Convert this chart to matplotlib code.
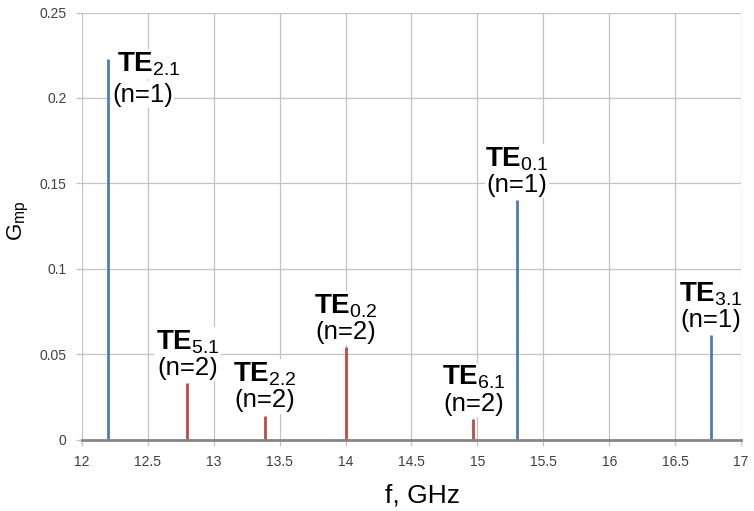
import matplotlib
matplotlib.use("Agg")
import matplotlib.pyplot as plt

# Mode peaks: frequency (GHz), magnitude, mode name, harmonic number
freq_n1 = [12.2, 15.3, 16.77]
gmp_n1 = [0.223, 0.140, 0.061]
mode_n1 = ["2.1", "0.1", "3.1"]

freq_n2 = [12.8, 13.39, 14.0, 14.97]
gmp_n2 = [0.033, 0.014, 0.054, 0.012]
mode_n2 = ["5.1", "2.2", "0.2", "6.1"]

x_ticks = [12, 12.5, 13, 13.5, 14, 14.5, 15, 15.5, 16, 16.5, 17]
x_tick_labels = ["12", "12.5", "13", "13.5", "14", "14.5", "15", "15.5", "16", "16.5", "17"]
y_ticks = [0, 0.05, 0.1, 0.15, 0.2, 0.25]
y_tick_labels = ["0", "0.05", "0.1", "0.15", "0.2", "0.25"]

plt.rcParams["font.family"] = ["Liberation Sans", "DejaVu Sans"]
plt.rcParams["mathtext.fontset"] = "custom"
plt.rcParams["mathtext.rm"] = "Liberation Sans"
plt.rcParams["mathtext.it"] = "Liberation Sans:italic"
plt.rcParams["mathtext.bf"] = "Liberation Sans:bold"

BLUE = "#4a7ebb"
RED = "#be4b48"
GRID = "#c3c3c3"
AXIS = "#868686"
TICK_TXT = "#404040"

fig = plt.figure(figsize=(7.54, 5.11), dpi=100)
ax = fig.add_axes([0.10875, 0.1399, 0.8740, 0.8356])

ax.set_xlim(12, 17)
ax.set_ylim(0, 0.25)

ax.vlines(freq_n1, 0, gmp_n1, colors=BLUE, linewidth=2.0, zorder=3)
ax.vlines(freq_n2, 0, gmp_n2, colors=RED, linewidth=2.0, zorder=3)

ax.set_xticks(x_ticks)
ax.set_xticklabels(x_tick_labels)
ax.set_yticks(y_ticks)
ax.set_yticklabels(y_tick_labels)
ax.grid(True, color=GRID, linewidth=0.9, zorder=0)
ax.set_axisbelow(True)

for s in ("top", "right", "left"):
    ax.spines[s].set_visible(False)
ax.spines["bottom"].set_color(AXIS)
ax.spines["bottom"].set_linewidth(2.0)
ax.spines["bottom"].set_zorder(4)

ax.tick_params(axis="x", length=4, width=0.9, color=GRID, pad=7,
               labelsize=10, labelcolor=TICK_TXT)
ax.tick_params(axis="y", length=4, width=0.9, color=GRID, pad=7,
               labelsize=10, labelcolor=TICK_TXT)

box = dict(facecolor="white", edgecolor="none", pad=1.0)


def label_peak(x, y, mode, n, left=False):
    name = r"$\mathbf{TE}_{\mathrm{%s}}$" % mode
    harm = "(n=%d)" % n
    if left:
        ax.annotate(name, (x, y), xytext=(6, -9), textcoords="offset points",
                    ha="left", va="baseline", fontsize=20, bbox=box, zorder=5)
        ax.annotate(harm, (x, y), xytext=(2.6, -31), textcoords="offset points",
                    ha="left", va="baseline", fontsize=18.5, bbox=box, zorder=5)
    else:
        ax.annotate(harm, (x, y), xytext=(0, 6), textcoords="offset points",
                    ha="center", va="baseline", fontsize=18.5, bbox=box, zorder=5)
        ax.annotate(name, (x, y), xytext=(0, 24.5), textcoords="offset points",
                    ha="center", va="baseline", fontsize=20, bbox=box, zorder=5)


for i, (x, y, m) in enumerate(zip(freq_n1, gmp_n1, mode_n1)):
    label_peak(x, y, m, 1, left=(i == 0))
for x, y, m in zip(freq_n2, gmp_n2, mode_n2):
    label_peak(x, y, m, 2)

fig.text(422.5 / 754, 1 - 502 / 511, "f, GHz", fontsize=19,
         ha="center", va="baseline")
fig.text(18.5 / 754, 1 - 220.5 / 511, r"$\mathrm{G}_{\mathrm{mp}}$", fontsize=16,
         rotation=90, ha="center", va="center")

fig.savefig("out.png", dpi=100)
